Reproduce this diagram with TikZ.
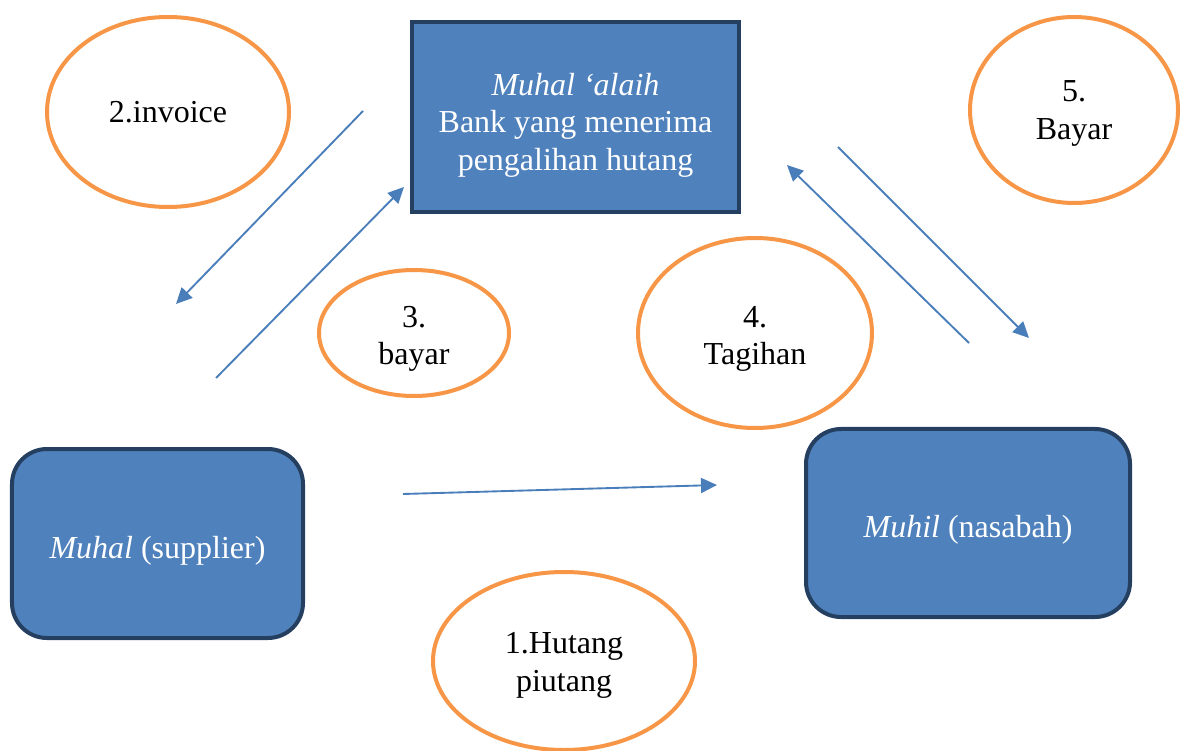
\documentclass[tikz,border=0pt]{standalone}
\usepackage{fontspec}
\setmainfont{Liberation Serif}
\usetikzlibrary{shapes.geometric,arrows.meta}
\definecolor{boxblue}{HTML}{4F81BD}
\definecolor{boxline}{HTML}{243F60}
\definecolor{ringorange}{HTML}{F79646}
\definecolor{arrowblue}{HTML}{4A7EBB}
\newcommand{\lowtext}[1]{\rule{0pt}{#1}}

\begin{document}
\begin{tikzpicture}[x=0.4pt,y=-0.4pt,
        party/.style={draw=boxline,fill=boxblue,line width=1.6pt,text=white,
          inner sep=0pt,align=center,font=\fontsize{12.8}{15}\selectfont},
        ring/.style={ellipse,draw=ringorange,fill=white,line width=1.6pt,
          inner sep=0pt,align=center,font=\fontsize{12.8}{15}\selectfont},
        flow/.style={draw=arrowblue,line width=0.75pt,
          -{Triangle[length=6.4pt,width=6pt,fill=arrowblue]}}]
        \useasboundingbox (0,0) rectangle (1184,751);
        % the three parties
        \node [party,minimum width=130.8pt,minimum height=76pt] (bank) at (575.5,117)
          {\lowtext{15.5pt}\textit{Muhal ‘alaih}\\Bank yang menerima\\pengalihan hutang};
        \node [party,rounded corners=14pt,minimum width=116.4pt,minimum height=75.6pt] (muhal) at (157.5,543.5)
          {\lowtext{14.5pt}\textit{Muhal} (supplier)};
        \node [party,rounded corners=14pt,minimum width=129.6pt,minimum height=75.2pt] (muhil) at (968,523)
          {\lowtext{14.5pt}\textit{Muhil} (nasabah)};
        % the numbered steps
        \node [ring,minimum width=96.8pt,minimum height=76pt] (invoice) at (168,112) {2.invoice};
        \node [ring,minimum width=83.2pt,minimum height=74.4pt] (bayarB) at (1074,110) {\lowtext{11pt}5.\\Bayar};
        \node [ring,minimum width=76pt,minimum height=50.4pt] (bayarA) at (414,333) {\lowtext{13pt}3.\\bayar};
        \node [ring,minimum width=93.6pt,minimum height=76pt] (tagihan) at (755,333) {\lowtext{13pt}4.\\Tagihan};
        \node [ring,minimum width=104.8pt,minimum height=71.2pt] (hutang) at (564,661) {\lowtext{12pt}1.Hutang\\piutang};
        % arrow ends
        \coordinate (a1s) at (403,494);
        \coordinate (a1e) at (717,485);
        \coordinate (a2s) at (363,111);
        \coordinate (a2e) at (176,304);
        \coordinate (a3s) at (216,378);
        \coordinate (a3e) at (404,187);
        \coordinate (a4s) at (969,343);
        \coordinate (a4e) at (787,165);
        \coordinate (a5s) at (838,147);
        \coordinate (a5e) at (1029,338);
        \draw [flow] (a1s) -- (a1e);
        \draw [flow] (a2s) -- (a2e);
        \draw [flow] (a3s) -- (a3e);
        \draw [flow] (a4s) -- (a4e);
        \draw [flow] (a5s) -- (a5e);
\end{tikzpicture}
\end{document}
